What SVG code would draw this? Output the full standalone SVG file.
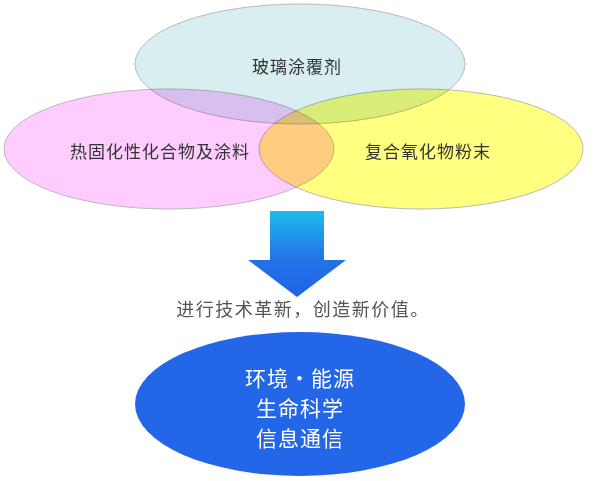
<svg xmlns="http://www.w3.org/2000/svg" width="594" height="481" viewBox="0 0 594 481">
<defs>
<linearGradient id="arrowGrad" x1="0" y1="0" x2="0" y2="1">
<stop offset="0" stop-color="#1fbbee"/>
<stop offset="0.55" stop-color="#2274e6"/>
<stop offset="1" stop-color="#2262e8"/>
</linearGradient>
</defs>
<style>
.venn{stroke:#b8b8b8;stroke-width:1;mix-blend-mode:multiply}
.lbl{font-family:"Noto Sans CJK SC","Noto Sans CJK JP",sans-serif;font-size:17px;fill:#333;text-anchor:middle;letter-spacing:1px}
.mid{font-family:"Noto Sans CJK SC","Noto Sans CJK JP",sans-serif;font-size:18px;fill:#555;text-anchor:middle;letter-spacing:1.5px}
.wt{font-family:"Noto Sans CJK SC","Noto Sans CJK JP",sans-serif;font-size:21px;fill:#fff;text-anchor:middle;letter-spacing:1px}
</style>
<rect width="594" height="481" fill="#fff"/>
<g id="venn" style="isolation:isolate">
<g id="glass">
<ellipse class="venn" cx="300" cy="64" rx="165" ry="60" fill="#d9eef0"/>
</g>
<g id="thermoset">
<ellipse class="venn" cx="169" cy="149" rx="165" ry="60" fill="#ffccff"/>
</g>
<g id="oxide">
<ellipse class="venn" cx="421" cy="149" rx="162" ry="60" fill="#ffff80"/>
</g>
</g>
<text class="lbl" x="297" y="73">玻璃涂覆剂</text>
<text class="lbl" x="160" y="158">热固化性化合物及涂料</text>
<text class="lbl" x="428" y="158">复合氧化物粉末</text>
<g id="connectors">
<path d="M270,211 H324 V260 H346 L297,297 L248,260 H270 Z" fill="url(#arrowGrad)"/>
</g>
<g id="caption">
<text class="mid" x="303" y="316">进行技术革新，创造新价值。</text>
</g>
<g id="result">
<ellipse cx="300" cy="404" rx="165" ry="72" fill="#2367e8"/>
<text class="wt" x="300" y="386">环境・能源</text>
<text class="wt" x="300" y="416">生命科学</text>
<text class="wt" x="300" y="446">信息通信</text>
</g>
</svg>
